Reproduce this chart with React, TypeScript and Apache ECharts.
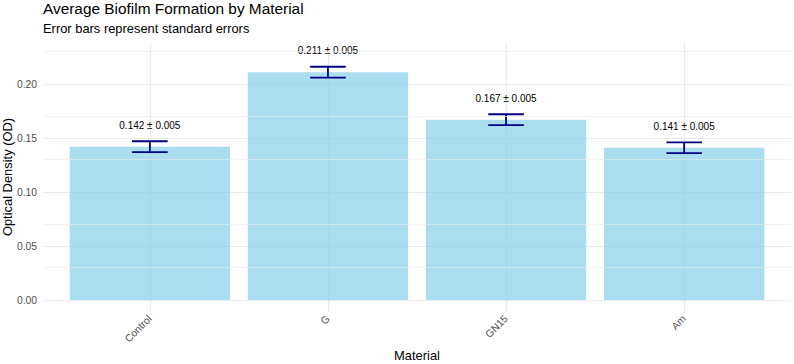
import React, { useEffect, useRef } from "react";
import * as echarts from "echarts";

// Mean optical density per material with its standard error
const materials = ["Control", "G", "GN15", "Am"];
const meanOD = [0.142, 0.211, 0.167, 0.141];
const seOD = [0.005, 0.005, 0.005, 0.005];

// Gridline positions on the OD axis
const majorY = [0, 0.05, 0.1, 0.15, 0.2];
const minorY = [0.025, 0.075, 0.125, 0.175, 0.225];

const FONT = "'Liberation Sans', Arial, Helvetica, sans-serif";
const GRID = "#EBEBEB";
const AXIS_TEXT = "#4D4D4D";

export default function App() {
  const ref = useRef<HTMLDivElement>(null);

  useEffect(() => {
    if (!ref.current) return;
    document.body.style.margin = "0";
    const chart = echarts.init(ref.current, null, { renderer: "svg" });
    const positions = materials.map((_, i) => i + 1);
    const barData = positions.map((x, i) => [x, meanOD[i]]);
    const errData = positions.map((x, i) => [x, meanOD[i], seOD[i]]);

    chart.setOption({
      animation: false,
      grid: { left: 43, right: 3, top: 43, bottom: 52, containLabel: false },
      xAxis: {
        type: "value",
        min: 0.4,
        max: 4.6,
        axisLine: { show: false },
        axisTick: { show: false, customValues: positions },
        splitLine: { show: true, lineStyle: { color: GRID, width: 1.2 } },
        axisLabel: {
          customValues: positions,
          formatter: (v: number) => materials[Math.round(v) - 1] ?? "",
          rotate: 45,
          color: AXIS_TEXT,
          fontSize: 10.3,
          fontFamily: FONT,
          margin: 5,
        },
      },
      yAxis: {
        type: "value",
        min: -0.0111,
        max: 0.238,
        axisLine: { show: false },
        axisTick: { show: false, customValues: majorY },
        splitLine: { show: true, lineStyle: { color: GRID, width: 1.2 } },
        axisLabel: {
          customValues: majorY,
          formatter: (v: number) => v.toFixed(2),
          color: AXIS_TEXT,
          fontSize: 10.3,
          fontFamily: FONT,
          margin: 6,
        },
      },
      graphic: [
        {
          type: "text",
          left: 43,
          top: 1,
          style: {
            text: "Average Biofilm Formation by Material",
            fontSize: 15.4,
            fontFamily: FONT,
            fill: "#000",
          },
        },
        {
          type: "text",
          left: 43,
          top: 22,
          style: {
            text: "Error bars represent standard errors",
            fontSize: 12.9,
            fontFamily: FONT,
            fill: "#000",
          },
        },
        {
          type: "text",
          x: 7,
          y: 177,
          rotation: Math.PI / 2,
          style: {
            text: "Optical Density (OD)",
            fontSize: 12.9,
            fontFamily: FONT,
            fill: "#000",
            textAlign: "center",
            textVerticalAlign: "middle",
          },
        },
        {
          type: "text",
          x: 417,
          y: 355,
          style: {
            text: "Material",
            fontSize: 12.9,
            fontFamily: FONT,
            fill: "#000",
            textAlign: "center",
            textVerticalAlign: "middle",
          },
        },
      ],
      series: [
        {
          // minor horizontal gridlines
          type: "line",
          data: [],
          z: 1,
          silent: true,
          markLine: {
            silent: true,
            symbol: "none",
            label: { show: false },
            lineStyle: { color: GRID, width: 0.6, type: "solid" },
            data: minorY.map((v) => ({ yAxis: v })),
          },
        },
        {
          type: "bar",
          data: barData,
          barWidth: "90%",
          z: 2,
          itemStyle: { color: "skyblue", opacity: 0.7 },
        },
        {
          type: "custom",
          data: errData,
          z: 3,
          encode: { x: 0, y: 1 },
          renderItem: (params: any, api: any) => {
            const x = api.value(0);
            const m = api.value(1);
            const s = api.value(2);
            const top = api.coord([x, m + s]);
            const bot = api.coord([x, m - s]);
            const half = api.size([0.1, 0])[0];
            const lab = api.coord([x, m + s + 0.01]);
            const ls = { stroke: "#000080", lineWidth: 1.8 };
            return {
              type: "group",
              children: [
                { type: "line", shape: { x1: top[0] - half, y1: top[1], x2: top[0] + half, y2: top[1] }, style: ls },
                { type: "line", shape: { x1: bot[0] - half, y1: bot[1], x2: bot[0] + half, y2: bot[1] }, style: ls },
                { type: "line", shape: { x1: top[0], y1: top[1], x2: bot[0], y2: bot[1] }, style: ls },
                {
                  type: "text",
                  x: lab[0],
                  y: lab[1],
                  style: {
                    text: `${m.toFixed(3)} ± ${s.toFixed(3)}`,
                    fontSize: 10,
                    fontFamily: FONT,
                    fill: "#000",
                    textAlign: "center",
                    textVerticalAlign: "bottom",
                  },
                },
              ],
            };
          },
        },
      ],
    });

    return () => chart.dispose();
  }, []);

  return <div ref={ref} style={{ width: 794, height: 364 }} />;
}
